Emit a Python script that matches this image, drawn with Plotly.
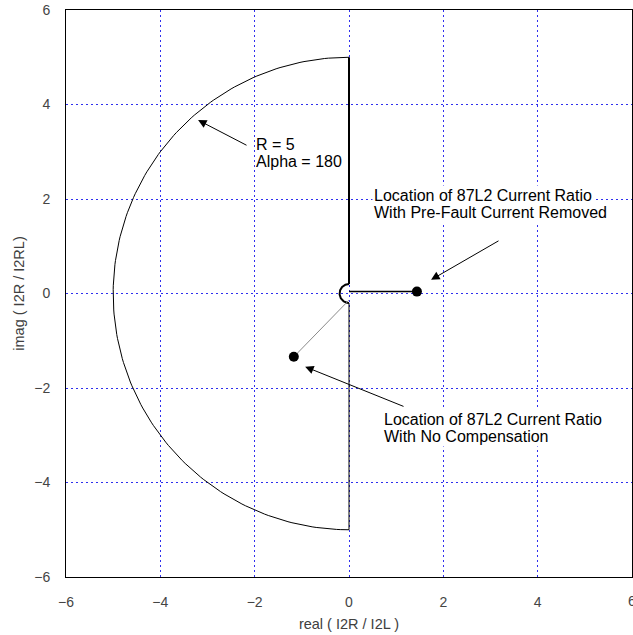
import numpy as np
import plotly.graph_objects as go

# ---- data ----
R = 5.0
ALPHA = 180.0
R_SMALL = 0.2
pt_prefault = [1.44, 0.04]      # Location with pre-fault current removed
pt_nocomp = [-1.17, -1.34]      # Location with no compensation
x_ticks = [-6, -4, -2, 0, 2, 4, 6]
y_ticks = [-6, -4, -2, 0, 2, 4, 6]

W, H = 633, 635
ml, mr, mt, mb = 66, 1, 10, 58
pw, ph = W - ml - mr, H - mt - mb


def px2data(px, py):
    return -6 + (px - ml) / pw * 12, 6 - (py - mt) / ph * 12


def data2px(x, y):
    return ml + (x + 6) / 12 * pw, mt + (6 - y) / 12 * ph


# restraint boundary (left half-circle spanning ALPHA degrees)
th = np.radians(np.linspace(90, 90 + ALPHA, 181))
arc_x = R * np.cos(th)
arc_y = R * np.sin(th)
sm_x = R_SMALL * np.cos(th)
sm_y = R_SMALL * np.sin(th)

fig = go.Figure()
fig.add_trace(go.Scatter(x=arc_x, y=arc_y, mode="lines",
                         line=dict(color="black", width=1), hoverinfo="skip"))
fig.add_trace(go.Scatter(x=[0, 0], y=[R, R_SMALL], mode="lines",
                         line=dict(color="black", width=2), hoverinfo="skip"))
fig.add_trace(go.Scatter(x=[0, 0], y=[-R_SMALL, -R], mode="lines",
                         line=dict(color="black", width=1), hoverinfo="skip"))
fig.add_trace(go.Scatter(x=sm_x, y=sm_y, mode="lines",
                         line=dict(color="black", width=2), hoverinfo="skip"))
fig.add_trace(go.Scatter(x=[0, pt_prefault[0]], y=[pt_prefault[1], pt_prefault[1]], mode="lines",
                         line=dict(color="black", width=1.5), hoverinfo="skip"))
fig.add_trace(go.Scatter(x=[0, pt_nocomp[0]], y=[-0.14, pt_nocomp[1]], mode="lines",
                         line=dict(color="#8a8a8a", width=1), hoverinfo="skip"))
fig.add_trace(go.Scatter(x=[pt_prefault[0], pt_nocomp[0]], y=[pt_prefault[1], pt_nocomp[1]],
                         mode="markers", marker=dict(color="black", size=10), hoverinfo="skip"))

FONT = "Liberation Sans, Arial, sans-serif"
afont = dict(family=FONT, size=16, color="black")

# arrows: (tip in data coords, tail in pixels)
arrows = [((-3.2, 3.67), (248, 146)),
          ((1.74, 0.29), (500, 240)),
          ((-0.93, -1.55), (405, 407))]
for (tx, ty), (axp, ayp) in arrows:
    tpx, tpy = data2px(tx, ty)
    fig.add_annotation(x=tx, y=ty, ax=axp - tpx, ay=ayp - tpy, text="", showarrow=True,
                       arrowhead=2, arrowsize=1.7, arrowwidth=1, arrowcolor="black", standoff=0)

# text lines: (left px, center px, text, white background)
texts = [(254, 144, "R = 5", False), (254, 161, "Alpha = 180", False),
         (372, 195, "Location of 87L2 Current Ratio", True),
         (372, 212, "With Pre-Fault Current Removed", True),
         (382, 419, "Location of 87L2 Current Ratio", True),
         (382, 436, "With No Compensation", True)]
for lx, cy, t, bg in texts:
    dx, dy = px2data(lx, cy)
    fig.add_annotation(x=dx, y=dy, text=t, showarrow=False, xanchor="left", yanchor="middle",
                       font=afont, borderpad=1, bgcolor="white" if bg else None)

tfont = dict(family=FONT, size=14, color="#444")
# right-most x tick label, partly outside the window as in the reference
fig.add_annotation(x=1, xref="paper", y=0, yref="paper", yshift=-14, text=str(x_ticks[-1]),
                   showarrow=False, xanchor="center", yanchor="top", font=tfont)

axis_common = dict(showgrid=True, gridcolor="#2f2fee", griddash="2px,3px", gridwidth=1,
                   zeroline=False, showline=True, linecolor="black", linewidth=1, mirror=True,
                   ticks="", tickfont=tfont,
                   title_font=dict(family=FONT, size=14.5, color="#404040"))
fig.update_xaxes(range=[-6, 6], tickvals=x_ticks, title_text="real ( I2R / I2L )",
                 ticklabelstandoff=12, title_standoff=10, **axis_common)
fig.update_yaxes(range=[-6, 6], tickvals=y_ticks, title_text="imag ( I2R / I2RL)",
                 ticklabelstandoff=12, title_standoff=6, **axis_common)

fig.update_layout(width=W, height=H, margin=dict(l=ml, r=mr, t=mt, b=mb),
                  plot_bgcolor="white", paper_bgcolor="white", showlegend=False)
fig.write_html("out.html")
